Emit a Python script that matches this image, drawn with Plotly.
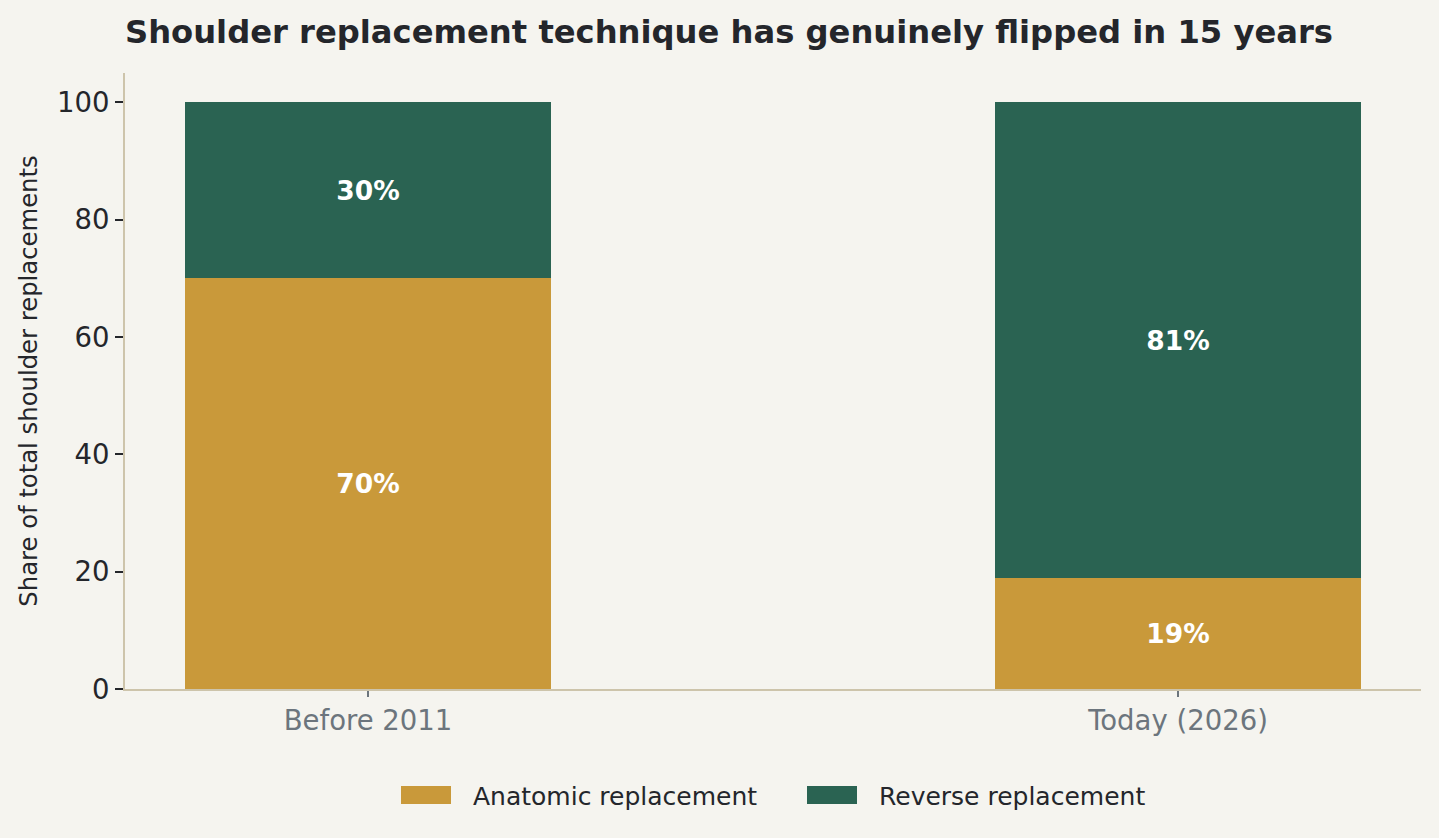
import plotly.graph_objects as go

categories = ["Before 2011", "Today (2026)"]
anatomic = [70, 19]
reverse = [30, 81]
series_names = ["Anatomic replacement", "Reverse replacement"]
colors = ["#C9993A", "#2A6352"]

title_text = "Shoulder replacement technique has genuinely flipped in 15 years"
y_title = "Share of total shoulder replacements"
y_ticks = [0, 20, 40, 60, 80, 100]

BG = "#F5F4EF"
FONT = "DejaVu Sans"
W, H = 1439, 838
ML, MR, MT, MB = 125, 18, 73, 149
PW, PH = W - ML - MR, H - MT - MB

fig = go.Figure()
for name, vals, col in zip(series_names, [anatomic, reverse], colors):
    fig.add_trace(go.Bar(
        x=[0, 1], y=vals, name=name, marker=dict(color=col, line=dict(width=0)),
        width=0.451,
        text=[f"{v}%" for v in vals], textposition="inside", insidetextanchor="middle",
        textfont=dict(family=FONT, size=26.5, color="white", weight="bold"),
        constraintext="none", hoverinfo="skip", showlegend=False,
    ))

# legend drawn as swatches + labels below the plot
def px_x(p):
    return (p - ML) / PW

def px_y(p):
    return (H - MB - p) / PH

shapes = []
annotations = []
leg_items = [(401, 451, 471), (807, 857, 877)]
for (sx0, sx1, tx), name, col in zip(leg_items, series_names, colors):
    shapes.append(dict(type="rect", xref="paper", yref="paper",
                       x0=px_x(sx0), x1=px_x(sx1), y0=px_y(804), y1=px_y(786),
                       fillcolor=col, line=dict(width=0)))
    annotations.append(dict(text=name, xref="paper", yref="paper", x=px_x(tx), y=px_y(796),
                            xanchor="left", yanchor="middle", showarrow=False,
                            font=dict(family=FONT, size=25, color="#24262B")))

fig.update_layout(
    barmode="stack",
    width=W, height=H,
    paper_bgcolor=BG, plot_bgcolor=BG,
    margin=dict(l=ML, r=MR, t=MT, b=MB),
    font=dict(family=FONT, color="#24262B"),
    title=dict(text=f"<b>{title_text}</b>", x=729/W, xanchor="center",
               y=1-32/H, yanchor="middle",
               font=dict(family=FONT, size=32.2, color="#24262B")),
    showlegend=False,
    shapes=shapes,
    annotations=annotations,
    bargap=0,
)
fig.update_xaxes(
    range=[-0.3, 1.3], tickmode="array", tickvals=[0, 1], ticktext=categories,
    showgrid=False, zeroline=False,
    showline=True, linecolor="#CDC4AB", linewidth=2,
    ticks="outside", ticklen=6, tickwidth=1.5, tickcolor="#6C757D",
    tickfont=dict(family=FONT, size=27.5, color="#6C757D"),
)
fig.update_yaxes(
    range=[0, 105], tickmode="array", tickvals=y_ticks,
    showgrid=False, zeroline=False,
    showline=True, linecolor="#CDC4AB", linewidth=2,
    ticks="outside", ticklen=8, tickwidth=2, tickcolor="#24262B",
    tickfont=dict(family=FONT, size=27.5, color="#24262B"),
    title=dict(text=y_title, font=dict(family=FONT, size=24.3, color="#24262B"), standoff=12),
)

fig.write_html("out.html", config={"displayModeBar": False},
               post_script="document.body.style.margin='0';document.body.style.overflow='hidden';")
